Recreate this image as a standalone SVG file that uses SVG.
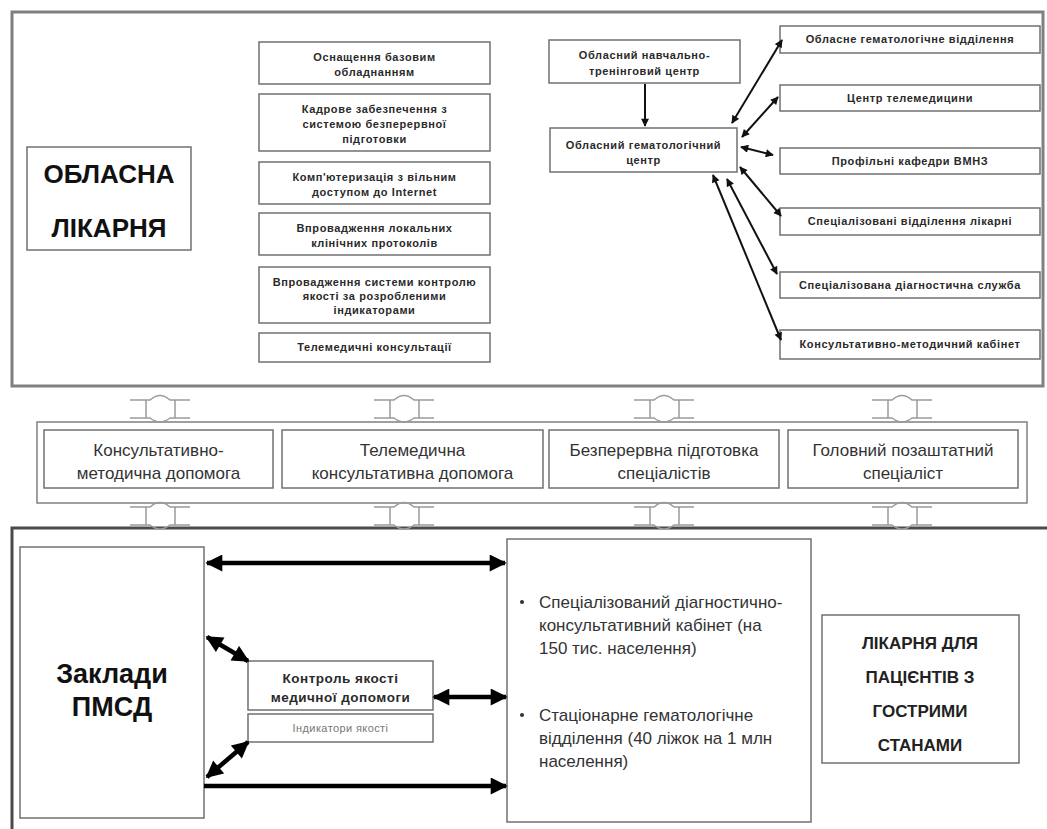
<svg xmlns="http://www.w3.org/2000/svg" width="1047" height="829" viewBox="0 0 1047 829">
<style>
.frame{fill:none;stroke:#808080;stroke-width:3}
.box{fill:#fff;stroke:#707070;stroke-width:1.5}
.sm{font-family:"Liberation Sans",Arial,sans-serif;font-size:11px;letter-spacing:0.6px;font-weight:bold;fill:#2a2a2a;text-anchor:middle}
.kq{font-family:"Liberation Sans",Arial,sans-serif;font-size:13.5px;letter-spacing:0.5px;font-weight:bold;fill:#2a2a2a;text-anchor:middle}
.ind{font-family:"Liberation Sans",Arial,sans-serif;font-size:11px;letter-spacing:0.4px;fill:#777;text-anchor:middle}
.mid{font-family:"Liberation Sans",Arial,sans-serif;font-size:17px;fill:#333;text-anchor:middle}
.big{font-family:"Liberation Sans",Arial,sans-serif;font-size:27px;font-weight:bold;fill:#111;text-anchor:middle}
.big2{font-family:"Liberation Sans",Arial,sans-serif;font-size:26px;font-weight:bold;fill:#111;text-anchor:middle}
.bul{font-family:"Liberation Sans",Arial,sans-serif;font-size:17px;fill:#333}
.hd{font-family:"Liberation Sans",Arial,sans-serif;font-size:17px;font-weight:bold;fill:#222;text-anchor:middle}
.thin{stroke:#111;stroke-width:2;fill:none}
.thick{stroke:#000;stroke-width:4.5;fill:none}
.ud{fill:none;stroke:#9a9a9a;stroke-width:1.5}
</style>
<defs>
<marker id="a" viewBox="0 0 10 10" refX="9" refY="5" markerUnits="userSpaceOnUse" markerWidth="9" markerHeight="8" orient="auto-start-reverse"><path d="M0,0L10,5L0,10z" fill="#111"/></marker>
<marker id="A" viewBox="0 0 10 10" refX="9" refY="5" markerUnits="userSpaceOnUse" markerWidth="18" markerHeight="17" orient="auto-start-reverse"><path d="M0,0L10,5L0,10z" fill="#000"/></marker>
<g id="udarrow">
<path class="ud" d="M-30,0H-10Q0,-9 10,0H30M-14,0V18M15,0V18M-30,18H-10Q0,26 10,18H30"/>
</g>
</defs>

<rect class="frame" x="12" y="12" width="1031" height="374"/>
<path d="M12,829V528H1047" fill="none" stroke="#4a4a4a" stroke-width="3"/>

<g id="oblasna">
<rect class="box" x="27" y="147" width="164" height="103"/>
<text class="big2" x="109" y="183">ОБЛАСНА</text>
<text class="big2" x="109" y="237">ЛІКАРНЯ</text>
</g>

<g id="l1"><rect class="box" x="259" y="42" width="231" height="42"/>
<text class="sm" x="374.5" y="61">Оснащення базовим</text><text class="sm" x="374.5" y="76">обладнанням</text></g>
<g id="l2"><rect class="box" x="259" y="94" width="231" height="57"/>
<text class="sm" x="374.5" y="113">Кадрове забезпечення з</text><text class="sm" x="374.5" y="128">системою безперервної</text><text class="sm" x="374.5" y="143">підготовки</text></g>
<g id="l3"><rect class="box" x="259" y="162" width="231" height="42"/>
<text class="sm" x="374.5" y="181">Комп'ютеризація з вільним</text><text class="sm" x="374.5" y="196">доступом до Internet</text></g>
<g id="l4"><rect class="box" x="259" y="213" width="231" height="42"/>
<text class="sm" x="374.5" y="232">Впровадження локальних</text><text class="sm" x="374.5" y="247">клінічних протоколів</text></g>
<g id="l5"><rect class="box" x="259" y="267" width="231" height="56"/>
<text class="sm" x="374.5" y="286">Впровадження системи контролю</text><text class="sm" x="374.5" y="300">якості за розробленими</text><text class="sm" x="374.5" y="314">індикаторами</text></g>
<g id="l6"><rect class="box" x="259" y="333" width="231" height="29"/>
<text class="sm" x="374.5" y="351">Телемедичні консультації</text></g>

<g id="trening"><rect class="box" x="549" y="40" width="191" height="43"/>
<text class="sm" x="644.5" y="59">Обласний навчально-</text><text class="sm" x="644.5" y="75">тренінговий центр</text></g>
<g id="gemcentr"><rect class="box" x="550" y="128" width="187" height="44"/>
<text class="sm" x="643.5" y="149">Обласний гематологічний</text><text class="sm" x="643.5" y="164">центр</text></g>

<g id="r1"><rect class="box" x="780" y="26" width="260" height="27"/><text class="sm" x="910" y="43">Обласне гематологічне відділення</text></g>
<g id="r2"><rect class="box" x="780" y="85" width="260" height="26"/><text class="sm" x="910" y="102">Центр телемедицини</text></g>
<g id="r3"><rect class="box" x="780" y="148" width="260" height="26"/><text class="sm" x="910" y="165">Профільні кафедри ВМНЗ</text></g>
<g id="r4"><rect class="box" x="780" y="208" width="260" height="27"/><text class="sm" x="910" y="225">Спеціалізовані відділення лікарні</text></g>
<g id="r5"><rect class="box" x="780" y="272" width="260" height="26"/><text class="sm" x="910" y="289">Спеціалізована діагностична служба</text></g>
<g id="r6"><rect class="box" x="780" y="330" width="260" height="29"/><text class="sm" x="910" y="348">Консультативно-методичний кабінет</text></g>

<g id="band">
<rect x="37" y="422" width="990" height="81" fill="#fff" stroke="#808080" stroke-width="1.5"/>
</g>
<g id="m1"><rect class="box" x="44" y="430" width="229" height="58"/>
<text class="mid" x="158.5" y="456">Консультативно-</text><text class="mid" x="158.5" y="479">методична допомога</text></g>
<g id="m2"><rect class="box" x="282" y="430" width="261" height="58"/>
<text class="mid" x="412.5" y="456">Телемедична</text><text class="mid" x="412.5" y="479">консультативна допомога</text></g>
<g id="m3"><rect class="box" x="549" y="430" width="230" height="58"/>
<text class="mid" x="664" y="456">Безперервна підготовка</text><text class="mid" x="664" y="479">спеціалістів</text></g>
<g id="m4"><rect class="box" x="788" y="430" width="230" height="58"/>
<text class="mid" x="903" y="456">Головний позаштатний</text><text class="mid" x="903" y="479">спеціаліст</text></g>

<g id="pmsd"><rect class="box" x="20" y="547" width="184" height="271"/>
<text class="big" x="112" y="683">Заклади</text><text class="big" x="112" y="716">ПМСД</text></g>

<g id="kontrol"><rect class="box" x="248" y="661" width="185" height="49"/>
<text class="kq" x="340.5" y="683">Контроль якості</text><text class="kq" x="340.5" y="702">медичної допомоги</text></g>
<g id="indyk"><rect class="box" x="248" y="714" width="185" height="28"/>
<text class="ind" x="340.5" y="732">Індикатори якості</text></g>

<g id="spec"><rect class="box" x="507" y="539" width="304" height="283"/>
<circle cx="522" cy="602" r="2" fill="#333"/>
<text class="bul" x="539" y="608">Спеціалізований діагностично-</text>
<text class="bul" x="539" y="631">консультативний кабінет (на</text>
<text class="bul" x="539" y="654">150 тис. населення)</text>
<circle cx="522" cy="715" r="2" fill="#333"/>
<text class="bul" x="539" y="721">Стаціонарне гематологічне</text>
<text class="bul" x="539" y="744">відділення (40 ліжок на 1 млн</text>
<text class="bul" x="539" y="767">населення)</text></g>

<g id="likarnia"><rect class="box" x="822" y="615" width="197" height="148"/>
<text class="hd" x="920" y="649">ЛІКАРНЯ ДЛЯ</text>
<text class="hd" x="920" y="683">ПАЦІЄНТІВ З</text>
<text class="hd" x="920" y="717">ГОСТРИМИ</text>
<text class="hd" x="920" y="751">СТАНАМИ</text></g>

<g id="connectors">
<line class="thin" x1="645" y1="84" x2="645" y2="126" marker-end="url(#a)"/>
<line class="thin" x1="732" y1="123" x2="782" y2="40" marker-start="url(#a)" marker-end="url(#a)"/>
<line class="thin" x1="742" y1="137" x2="778" y2="97" marker-start="url(#a)" marker-end="url(#a)"/>
<line class="thin" x1="741" y1="147" x2="773" y2="155" marker-start="url(#a)" marker-end="url(#a)"/>
<line class="thin" x1="740" y1="167" x2="781" y2="216" marker-start="url(#a)" marker-end="url(#a)"/>
<line class="thin" x1="727" y1="179" x2="777" y2="274" marker-start="url(#a)" marker-end="url(#a)"/>
<line class="thin" x1="713" y1="175" x2="781" y2="340" marker-start="url(#a)" marker-end="url(#a)"/>

<use href="#udarrow" x="160" y="400"/>
<use href="#udarrow" x="404" y="400"/>
<use href="#udarrow" x="664" y="400"/>
<use href="#udarrow" x="902" y="400"/>
<use href="#udarrow" x="160" y="507"/>
<use href="#udarrow" x="404" y="507"/>
<use href="#udarrow" x="664" y="507"/>
<use href="#udarrow" x="902" y="507"/>

<line class="thick" x1="207" y1="563" x2="505" y2="563" marker-start="url(#A)" marker-end="url(#A)"/>
<line class="thick" x1="204" y1="786" x2="506" y2="786" marker-end="url(#A)"/>
<line class="thick" x1="207" y1="637" x2="248" y2="661" marker-start="url(#A)" marker-end="url(#A)"/>
<line class="thick" x1="207" y1="777" x2="248" y2="742" marker-start="url(#A)" marker-end="url(#A)"/>
<line class="thick" x1="434" y1="697" x2="506" y2="697" marker-start="url(#A)" marker-end="url(#A)"/>
</g>
</svg>
